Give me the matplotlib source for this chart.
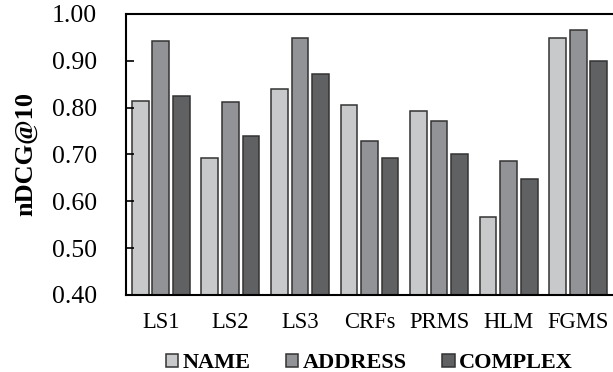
import matplotlib
matplotlib.use("Agg")
import matplotlib.pyplot as plt
import numpy as np

plt.rcParams["font.family"] = ["Liberation Serif", "DejaVu Serif"]

methods = ["LS1", "LS2", "LS3", "CRFs", "PRMS", "HLM", "FGMS"]
name_scores = [0.814, 0.693, 0.840, 0.806, 0.792, 0.566, 0.948]
address_scores = [0.942, 0.813, 0.949, 0.729, 0.771, 0.685, 0.966]
complex_scores = [0.825, 0.740, 0.871, 0.692, 0.701, 0.648, 0.900]
series_names = ["NAME", "ADDRESS", "COMPLEX"]
yticks = [0.40, 0.50, 0.60, 0.70, 0.80, 0.90, 1.00]

colors = ["#c8c9cb", "#929396", "#606163"]

fig = plt.figure(figsize=(6.13, 3.72), dpi=100)
ax = fig.add_axes([0.2055, 0.207, 0.7945, 0.7556])

x = np.arange(len(methods))
width = 0.24
step = 0.295
for i, (vals, label) in enumerate(zip([name_scores, address_scores, complex_scores], series_names)):
    ax.bar(x + (i - 1) * step, vals, width, color=colors[i], edgecolor="#333333",
           linewidth=1.1, label=label)

ax.set_xlim(-0.5, 6.5)
ax.set_ylim(0.40, 1.00)
ax.set_yticks(yticks)
ax.set_yticklabels([f"{v:.2f}" for v in yticks], fontsize=18.5)
ax.set_xticks(x)
ax.set_xticklabels(methods, fontsize=16.3)
ax.tick_params(axis="x", length=0, pad=12)
ax.tick_params(axis="y", direction="in", length=6, width=1.2, pad=21)
ax.spines["right"].set_visible(False)
for s in ["left", "top", "bottom"]:
    ax.spines[s].set_linewidth(1.5)

ax.set_ylabel("nDCG@10", fontsize=19, fontweight="bold", labelpad=10)

ax.legend(loc="center", bbox_to_anchor=(0.5, -0.243), ncol=3, frameon=False,
          prop={"weight": "bold", "size": 16}, handlelength=0.55, handleheight=0.55,
          handletextpad=0.2, columnspacing=1.6, borderaxespad=0)

fig.savefig("out.png", dpi=100)
